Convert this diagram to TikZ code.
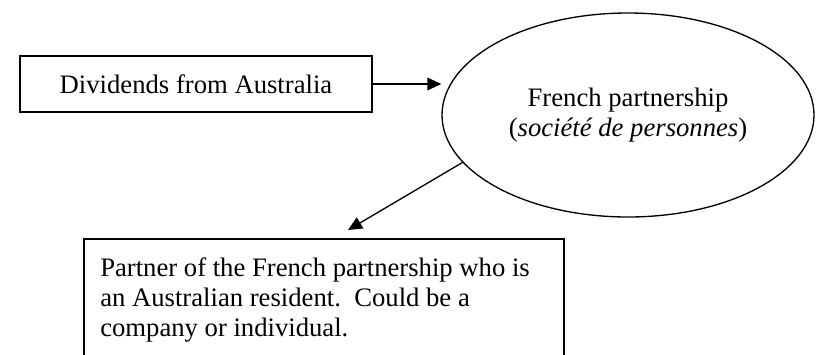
\documentclass[tikz,border=0pt]{standalone}
\usepackage{fontspec}
\setmainfont{Liberation Serif}
\usetikzlibrary{shapes.geometric,arrows.meta}
\begin{document}
\begin{tikzpicture}[x=0.75pt,y=-0.75pt,
  every node/.style={font=\fontsize{20pt}{22.6pt}\selectfont},
  boxline/.style={draw=black,line width=1.2pt},
  arr/.style={line width=1pt,-{Triangle[length=10.5pt,width=9.5pt]}}]
\useasboundingbox (0,0) rectangle (816,354);
\node[boxline, minimum width=264pt, minimum height=42pt, inner sep=0] (div) at (196,84) {Dividends from Australia};
\node[ellipse, draw=black, line width=1pt, minimum width=279pt, minimum height=153pt, inner sep=0, align=center] (fp) at (628,115) {French partnership\\(\textit{société de personnes})};
\node[boxline, anchor=north west, minimum width=360pt, minimum height=110pt, inner sep=0] (partner) at (83,238) {};
\node[anchor=north west, align=left, inner sep=0] (ptext) at (100,257) {Partner of the French partnership who is\\an Australian resident.\ \ Could be a\\company or individual.};
\coordinate (tip) at (348,230);
\draw[arr] (div.east) -- (div.east -| fp.west);
\draw[arr] (fp.196) -- (tip);
\end{tikzpicture}
\end{document}
